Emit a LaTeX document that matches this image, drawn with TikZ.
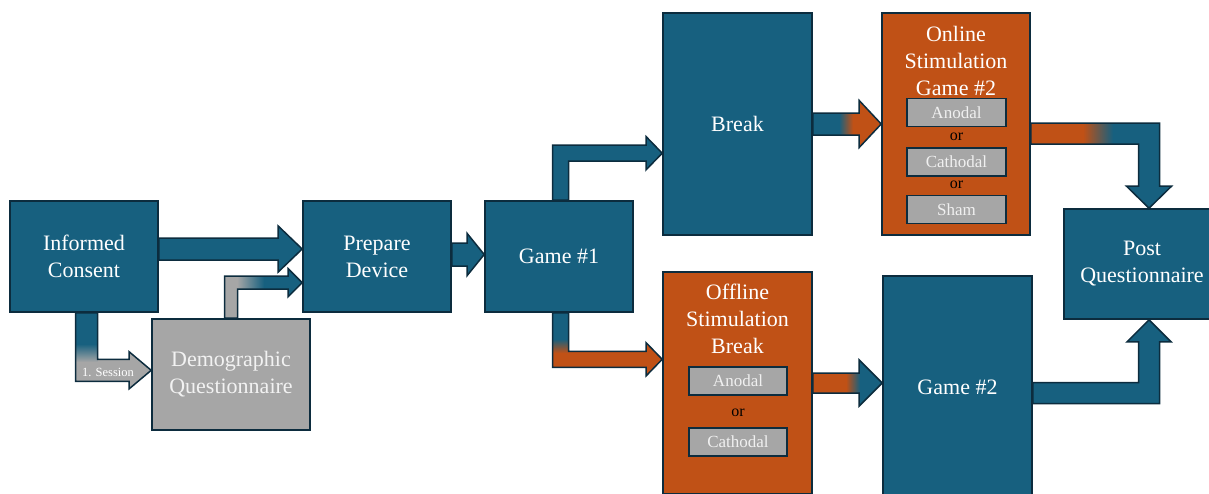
\documentclass[tikz,border=0pt]{standalone}
\usepackage{fontspec}
\setmainfont{Liberation Serif}
\usetikzlibrary{calc}

\definecolor{flowblue}{HTML}{17607F}
\definecolor{floworange}{HTML}{C05116}
\definecolor{flowgray}{HTML}{A6A6A6}
\definecolor{flowedge}{HTML}{0C2C3E}

\newcommand\bigtext{\fontsize{22}{27}\selectfont}
\newcommand\midtext{\fontsize{17}{20}\selectfont}

\pgfdeclarelayer{behind}
\pgfsetlayers{behind,main}

\tikzset{
  flowbox/.style={draw=flowedge, line width=1.6pt, fill=flowblue, text=white,
    font=\bigtext, align=center, inner sep=0pt, minimum width=148pt, minimum height=111pt},
  stimbox/.style={flowbox, fill=floworange},
  greybox/.style={flowbox, fill=flowgray, text=white!95!black},
  choice/.style={draw=flowedge, line width=1.7pt, fill=flowgray, text=white!94!black,
    font=\midtext, inner sep=0pt, minimum width=99pt, minimum height=28pt},
  ortext/.style={font=\fontsize{16}{18}\selectfont, text=black, inner sep=0pt},
  title/.style={text=white, font=\bigtext, align=center, inner sep=0pt},
  smalltext/.style={text=white, font=\fontsize{12.5}{14}\selectfont, inner sep=0pt},
  arrowline/.style={draw=flowedge, line width=1.5pt, line join=miter},
}

% fill the whole drawing area (used inside an arrow's clip)
\newcommand\solidfill[1]{\fill[#1] (0,0) rectangle (1209,493);}

% block arrow pointing right: start, tip, half shaft, half head, head length, fills
\newcommand\rightblock[6]{%
  \def\arrowpath{($(#1)+(0,-#3)$) -- ($(#2)+(-#5,-#3)$) -- ($(#2)+(-#5,-#4)$) -- (#2)
    -- ($(#2)+(-#5,#4)$) -- ($(#2)+(-#5,#3)$) -- ($(#1)+(0,#3)$) -- cycle}%
  \begin{scope}\clip\arrowpath;#6\end{scope}%
  \draw[arrowline]\arrowpath;}

% bent arrow: up from start to bend, then right to tip
\newcommand\upright[7]{%
  \def\arrowpath{($(#1)+(-#4,0)$) -- ($(#2)+(-#4,-#4)$) -- ($(#3)+(-#6,-#4)$) -- ($(#3)+(-#6,-#5)$)
    -- (#3) -- ($(#3)+(-#6,#5)$) -- ($(#3)+(-#6,#4)$) -- ($(#2)+(#4,#4)$) -- ($(#1)+(#4,0)$) -- cycle}%
  \begin{scope}\clip\arrowpath;#7\end{scope}%
  \draw[arrowline]\arrowpath;}

% bent arrow: down from start to bend, then right to tip
\newcommand\downright[7]{%
  \def\arrowpath{($(#1)+(-#4,0)$) -- ($(#2)+(-#4,#4)$) -- ($(#3)+(-#6,#4)$) -- ($(#3)+(-#6,#5)$)
    -- (#3) -- ($(#3)+(-#6,-#5)$) -- ($(#3)+(-#6,-#4)$) -- ($(#2)+(#4,-#4)$) -- ($(#1)+(#4,0)$) -- cycle}%
  \begin{scope}\clip\arrowpath;#7\end{scope}%
  \draw[arrowline]\arrowpath;}

% bent arrow: right from start to bend, then down to tip
\newcommand\rightdown[7]{%
  \def\arrowpath{($(#1)+(0,-#4)$) -- ($(#2)+(#4,-#4)$) -- ($(#3)+(#4,-#6)$) -- ($(#3)+(#5,-#6)$)
    -- (#3) -- ($(#3)+(-#5,-#6)$) -- ($(#3)+(-#4,-#6)$) -- ($(#2)+(-#4,#4)$) -- ($(#1)+(0,#4)$) -- cycle}%
  \begin{scope}\clip\arrowpath;#7\end{scope}%
  \draw[arrowline]\arrowpath;}

% bent arrow: right from start to bend, then up to tip
\newcommand\rightup[7]{%
  \def\arrowpath{($(#1)+(0,#4)$) -- ($(#2)+(#4,#4)$) -- ($(#3)+(#4,#6)$) -- ($(#3)+(#5,#6)$)
    -- (#3) -- ($(#3)+(-#5,#6)$) -- ($(#3)+(-#4,#6)$) -- ($(#2)+(-#4,-#4)$) -- ($(#1)+(0,-#4)$) -- cycle}%
  \begin{scope}\clip\arrowpath;#7\end{scope}%
  \draw[arrowline]\arrowpath;}

\begin{document}
\begin{tikzpicture}[x=1pt,y=-1pt]
\useasboundingbox (0,0) rectangle (1209,493);
\clip (0,0) rectangle (1209,493);

% ---- first session
\node[flowbox] (ic) at (84,256.5) {Informed\\Consent};
\node[flowbox] (pd) at (377,256.5) {Prepare\\Device};
\node[flowbox] (g1) at (559,256.5) {Game \#1};
\node[greybox, minimum width=158pt] (demo) at (231,374.5) {Demographic\\Questionnaire};

% ---- upper branch
\node[flowbox, minimum width=149pt, minimum height=222pt] (brk) at (737.5,124) {Break};
\node[stimbox, minimum height=222pt] (onl) at (956,124) {};
\node[title] (onlT) at (956,60.5) {Online\\Stimulation\\Game \#2};
\node[choice] (onlA) at (956.5,112.5) {Anodal};
\node[ortext] (onlO1) at (956.5,137) {or};
\node[choice] (onlC) at (956.5,162) {Cathodal};
\node[ortext] (onlO2) at (956.5,185) {or};
\node[choice] (onlS) at (956.5,209.5) {Sham};

% ---- lower branch
\node[stimbox, minimum width=149pt, minimum height=222pt] (off) at (737.5,383) {};
\node[title] (offT) at (737.5,318.5) {Offline\\Stimulation\\Break};
\node[choice, minimum width=98pt] (offA) at (738,381) {Anodal};
\node[ortext] (offO) at (738,413) {or};
\node[choice, minimum width=98pt] (offC) at (738,442) {Cathodal};
\node[flowbox, minimum width=149pt, minimum height=222pt] (g2) at (957.5,387) {Game \#2};

% ---- end
\node[flowbox, minimum width=156pt, minimum height=110pt] (post) at (1142,264) {Post\\Questionnaire};

% ---- arrow anchor points
\coordinate (a1s) at ($(ic.east)+(0,-7.5)$);
\coordinate (a1t) at (a1s -| pd.west);
\coordinate (a2s) at (demo.north);
\coordinate (a2b) at ($(demo.north)+(0,-35.5)$);
\coordinate (a2t) at (a2b -| pd.west);
\coordinate (a3s) at ($(ic.south)+(2.5,0)$);
\coordinate (a3b) at ($(ic.south)+(2.5,57.5)$);
\coordinate (a3t) at (a3b -| demo.west);
\coordinate (a4s) at ($(pd.east)+(0,-2)$);
\coordinate (a4t) at (a4s -| g1.west);
\coordinate (a5s) at ($(g1.north)+(1.5,0)$);
\coordinate (a5b) at ($(g1.north)+(1.5,-47)$);
\coordinate (a5t) at (a5b -| brk.west);
\coordinate (a6s) at ($(g1.south)+(1.5,0)$);
\coordinate (a6b) at ($(g1.south)+(1.5,46.5)$);
\coordinate (a6t) at (a6b -| off.west);
\coordinate (a7s) at (brk.east);
\coordinate (a7t) at (a7s -| onl.west);
\coordinate (px) at ($(post.north)+(7,0)$);
\coordinate (a8s) at ($(onl.east)+(0,9.5)$);
\coordinate (a8b) at (a8s -| px);
\coordinate (a8t) at (a8b |- post.north);
\coordinate (a9s) at (off.east);
\coordinate (a9t) at (a9s -| g2.west);
\coordinate (a10s) at ($(g2.east)+(0,6)$);
\coordinate (a10b) at (a10s -| px);
\coordinate (a10t) at (a10b |- post.south);

\begin{pgfonlayer}{behind}
  % consent -> device
  \rightblock{a1s}{a1t}{11}{23}{24}{\solidfill{flowblue}}
  % questionnaire -> device
  \upright{a2s}{a2b}{a2t}{6.5}{14}{14}{%
    \fill[flowgray] (200,250) rectangle (237,330);
    \shade[left color=flowgray, right color=flowblue] (237,250) rectangle (264,330);
    \fill[flowblue] (264,250) rectangle (310,330);}
  % consent -> questionnaire
  \downright{a3s}{a3b}{a3t}{11}{18.5}{22}{%
    \solidfill{flowgray}
    \fill[flowblue] (60,300) rectangle (97.5,344);
    \shade[top color=flowblue, bottom color=flowgray] (60,344) rectangle (97.5,362);}
  % device -> game 1
  \rightblock{a4s}{a4t}{11.5}{21}{17}{\solidfill{flowblue}}
  % game 1 -> break
  \upright{a5s}{a5b}{a5t}{8}{16.5}{16}{\solidfill{flowblue}}
  % game 1 -> offline stimulation
  \downright{a6s}{a6b}{a6t}{8}{16.5}{16}{%
    \solidfill{floworange}
    \fill[flowblue] (540,300) rectangle (568.5,339);
    \shade[top color=flowblue, bottom color=floworange] (540,339) rectangle (568.5,353);}
  % break -> online stimulation
  \rightblock{a7s}{a7t}{11}{23.5}{22}{%
    \fill[flowblue] (800,90) rectangle (839,160);
    \shade[left color=flowblue, right color=floworange] (839,90) rectangle (853,160);
    \fill[floworange] (853,90) rectangle (890,160);}
  % online stimulation -> post
  \rightdown{a8s}{a8b}{a8t}{10.5}{22.5}{22}{%
    \fill[floworange] (1020,100) rectangle (1083,220);
    \shade[left color=floworange, right color=flowblue] (1083,100) rectangle (1113,220);
    \fill[flowblue] (1113,100) rectangle (1190,220);}
  % offline stimulation -> game 2
  \rightblock{a9s}{a9t}{10}{23}{23}{%
    \fill[floworange] (800,340) rectangle (846,420);
    \shade[left color=floworange, right color=flowblue] (846,340) rectangle (860,420);
    \fill[flowblue] (860,340) rectangle (890,420);}
  % game 2 -> post
  \rightup{a10s}{a10b}{a10t}{10.5}{22}{22}{\solidfill{flowblue}}
\end{pgfonlayer}

\node[smalltext] (sess) at (108,372) {1. Session};
\end{tikzpicture}
\end{document}
